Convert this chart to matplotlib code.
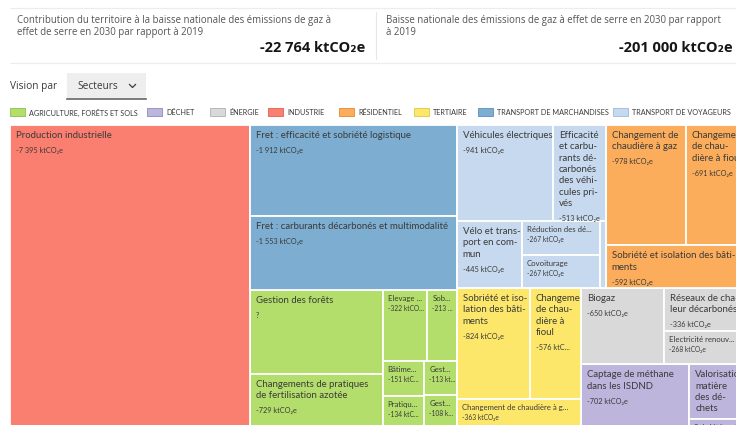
"""
    Treemap of the territorial contribution to the national GHG reduction (2030 vs 2019),
    grouped by sector. Layout uses a d3-like squarified algorithm.
"""
import matplotlib
matplotlib.use("Agg")
import matplotlib.pyplot as plt
from matplotlib.patches import Rectangle

PHI = (1 + 5 ** 0.5) / 2

# header figures
territory_total = "-22 764 ktCO₂e"
national_total = "-201 000 ktCO₂e"

# sectors (legend order) and colours
sectors = ["AGRICULTURE, FORÊTS ET SOLS", "DÉCHET", "ÉNERGIE", "INDUSTRIE",
           "RÉSIDENTIEL", "TERTIAIRE", "TRANSPORT DE MARCHANDISES", "TRANSPORT DE VOYAGEURS"]
sector_colors = ["#b4de6c", "#bdb5dc", "#d9d9d9", "#fa7f70",
                 "#fbad5c", "#fde76a", "#7dadd0", "#c6d9ee"]
sector_edges = ["#8fbf45", "#9088bf", "#b0b0b0", "#e0604f",
                "#e08c35", "#e0c640", "#5a8fb5", "#9db9d8"]

# leaves: sector, reduction (ktCO2e), label as shown, value text as shown (None = default)
leaf_sector = ["INDUSTRIE",
               "TRANSPORT DE MARCHANDISES", "TRANSPORT DE MARCHANDISES",
               "AGRICULTURE, FORÊTS ET SOLS", "AGRICULTURE, FORÊTS ET SOLS",
               "AGRICULTURE, FORÊTS ET SOLS", "AGRICULTURE, FORÊTS ET SOLS",
               "AGRICULTURE, FORÊTS ET SOLS", "AGRICULTURE, FORÊTS ET SOLS",
               "AGRICULTURE, FORÊTS ET SOLS", "AGRICULTURE, FORÊTS ET SOLS",
               "TRANSPORT DE VOYAGEURS", "TRANSPORT DE VOYAGEURS", "TRANSPORT DE VOYAGEURS",
               "TRANSPORT DE VOYAGEURS", "TRANSPORT DE VOYAGEURS", "TRANSPORT DE VOYAGEURS",
               "RÉSIDENTIEL", "RÉSIDENTIEL", "RÉSIDENTIEL",
               "TERTIAIRE", "TERTIAIRE", "TERTIAIRE",
               "ÉNERGIE", "ÉNERGIE", "ÉNERGIE",
               "DÉCHET", "DÉCHET", "DÉCHET"]
leaf_value = [7395,
              1912, 1553,
              1135, 729, 322, 213, 151, 134, 113, 108,
              941, 513, 445, 267, 267, 35,
              978, 691, 592,
              824, 576, 363,
              650, 336, 268,
              702, 290, 50]
leaf_label = ["Production industrielle",
              "Fret : efficacité et sobriété logistique",
              "Fret : carburants décarbonés et multimodalité",
              "Gestion des forêts",
              "Changements de pratiques\nde fertilisation azotée",
              "Elevage ...", "Sob...", "Bâtime...", "Pratiqu...", "Gest...", "Gest...",
              "Véhicules électriques",
              "Efficacité\net carbu-\nrants dé-\ncarbonés\ndes véhi-\ncules pri-\nvés",
              "Vélo et trans-\nport en com-\nmun",
              "Réduction des dé...", "Covoiturage", "",
              "Changement de\nchaudière à gaz",
              "Changement\nde chau-\ndière à fioul",
              "Sobriété et isolation des bâti-\nments",
              "Sobriété et iso-\nlation des bâti-\nments",
              "Changeme\nde chau-\ndière à\nfioul",
              "Changement de chaudière à g...",
              "Biogaz",
              "Réseaux de cha-\nleur décarbonés",
              "Electricité renouv...",
              "Captage de méthane\ndans les ISDND",
              "Valorisation\nmatière\ndes dé-\nchets",
              "Sobriété mati..."]
leaf_text = [None,
             None, None,
             "?", None, "-322 ktCO...", "-213 ...", "-151 ktC...", "-134 ktC...",
             "-113 kt...", "-108 k...",
             None, None, None, None, None, "",
             None, None, None,
             None, "-576 ktC...", None,
             None, None, None,
             None, "", ""]

legend_x = [10, 147, 210, 268, 339, 414, 478, 613]


def fmt(v):
    return "-" + f"{v:,}".replace(",", " ") + " ktCO₂e"


def squarify(values, x0, y0, x1, y1):
    """d3 style squarified tiling, returns rects (x0, y0, x1, y1) in input order."""
    rects = [None] * len(values)
    order = sorted(range(len(values)), key=lambda i: -values[i])
    total = float(sum(values))
    n = len(order)
    i0 = 0
    while i0 < n:
        dx, dy = x1 - x0, y1 - y0
        s = values[order[i0]]
        i1 = i0 + 1
        vmin = vmax = s
        alpha = max(dy / dx, dx / dy) / (total * PHI)
        beta = s * s * alpha
        best = max(vmax / beta, beta / vmin)
        while i1 < n:
            v = values[order[i1]]
            s2 = s + v
            mn, mx = min(vmin, v), max(vmax, v)
            beta = s2 * s2 * alpha
            r = max(mx / beta, beta / mn)
            if r > best:
                break
            s, vmin, vmax, best = s2, mn, mx, r
            i1 += 1
        row = order[i0:i1]
        if dx < dy:
            yb = y0 + dy * s / total
            xa = x0
            for k in row:
                w = dx * values[k] / s
                rects[k] = (xa, y0, xa + w, yb)
                xa += w
            y0 = yb
        else:
            xb = x0 + dx * s / total
            ya = y0
            for k in row:
                h = dy * values[k] / s
                rects[k] = (x0, ya, xb, ya + h)
                ya += h
            x0 = xb
        total -= s
        i0 = i1
    return rects


def main():
    fig = plt.figure(figsize=(7.36, 4.25), dpi=100)
    ax = fig.add_axes([0, 0, 1, 1])
    ax.set_xlim(0, 736)
    ax.set_ylim(425, 0)
    ax.axis("off")

    head_font = ["Open Sans", "DejaVu Sans"]
    cell_font = ["Lato", "DejaVu Sans"]
    dark = "#3a3a3a"

    # header cards
    ax.plot([10, 736], [7.5, 7.5], color="#ececec", lw=0.8)
    ax.plot([10, 736], [62.5, 62.5], color="#ececec", lw=0.8)
    ax.plot([375.5, 375.5], [12, 59], color="#e6e6e6", lw=0.8)
    ax.text(17, 20, "Contribution du territoire à la baisse nationale des émissions de gaz à",
            fontsize=6.9, color="#555555", family=head_font, va="center")
    ax.text(17, 32, "effet de serre en 2030 par rapport à 2019",
            fontsize=6.9, color="#555555", family=head_font, va="center")
    ax.text(365, 48, territory_total, fontsize=10.5, fontweight="bold", color="#161616",
            family=head_font, va="center", ha="right")
    ax.text(386, 20, "Baisse nationale des émissions de gaz à effet de serre en 2030 par rapport",
            fontsize=6.9, color="#555555", family=head_font, va="center")
    ax.text(386, 32, "à 2019", fontsize=6.9, color="#555555", family=head_font, va="center")
    ax.text(733, 48, national_total, fontsize=10.5, fontweight="bold", color="#161616",
            family=head_font, va="center", ha="right")

    # selector
    ax.text(10, 86, "Vision par", fontsize=7.3, color=dark, family=head_font, va="center")
    ax.add_patch(Rectangle((67, 73), 79, 26, facecolor="#eeeeee", edgecolor="none"))
    ax.plot([67, 146], [98.5, 98.5], color="#666666", lw=1.2)
    ax.text(77, 86, "Secteurs", fontsize=7.3, color=dark, family=head_font, va="center")
    ax.plot([129.5, 132.5, 135.5], [84.5, 87.5, 84.5], color=dark, lw=0.9)

    # legend
    for name, col, edge, x in zip(sectors, sector_colors, sector_edges, legend_x):
        ax.add_patch(Rectangle((x, 108), 15, 8, facecolor=col, edgecolor=edge, lw=0.6))
        ax.text(x + 19, 112.5, name, fontsize=5.2, color=dark, family=cell_font, va="center")

    # treemap: sectors first, then leaves in each sector
    sector_vals = [sum(v for s, v in zip(leaf_sector, leaf_value) if s == name) for name in sectors]
    sector_rects = squarify(sector_vals, 10, 125, 742, 428)

    for si, name in enumerate(sectors):
        idx = [i for i, s in enumerate(leaf_sector) if s == name]
        sub = squarify([leaf_value[i] for i in idx], *sector_rects[si])
        for i, (x0, y0, x1, y1) in zip(idx, sub):
            ax.add_patch(Rectangle((x0, y0), x1 - x0, y1 - y0, facecolor=sector_colors[si],
                                   edgecolor="white", lw=1.3))
            w, h = x1 - x0, y1 - y0
            small = h < 40 or w < 48
            lines = leaf_label[i].split("\n") if leaf_label[i] else []
            vtxt = fmt(leaf_value[i]) if leaf_text[i] is None else leaf_text[i]
            if small:
                first, lh, fs, vfs, vgap = 8.5, 9.5, 5.6, 4.8, 10
            else:
                first, lh, fs, vfs, vgap = 10.5, 11.3, 6.9, 5.3, 15
            xt = x0 + 6 if not small else x0 + 5
            y = y0 + first
            for j, line in enumerate(lines):
                ax.text(xt, y + j * lh, line, fontsize=fs, color=dark, family=cell_font,
                        va="center", clip_on=True)
            if vtxt:
                yv = y + (len(lines) - 1) * lh + vgap if lines else y
                ax.text(xt, yv, vtxt, fontsize=vfs, color=dark, family=cell_font,
                        va="center", clip_on=True)

    fig.savefig("out.png", dpi=100)


if __name__ == "__main__":
    main()
